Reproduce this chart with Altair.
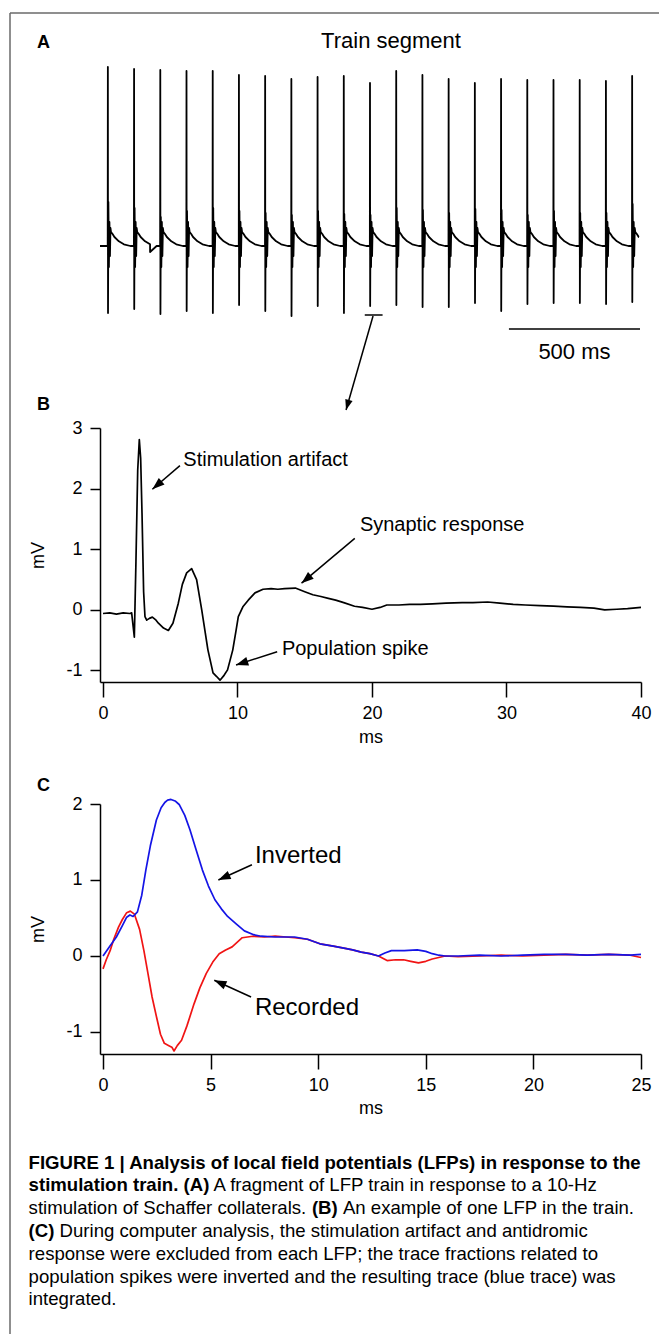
import math
import altair as alt
import pandas as pd

FONT = "Liberation Sans"
W, H = 659, 1334

# ---------------- Panel A : train segment (10-Hz stimulation) ----------------
A_TIMES = [0, 100, 200, 300, 400, 500, 600, 700, 800, 900, 1000,
           1100, 1200, 1300, 1400, 1500, 1600, 1700, 1800, 1900, 2000]
A_TOPS = [17.9, 17.7, 17.6, 17.5, 17.5, 17.1, 17.0, 16.7, 16.9, 17.0, 16.3,
          17.5, 17.1, 16.7, 16.3, 16.7, 16.6, 16.6, 16.6, 16.5, 17.0]
A_BOTTOMS = [-6.7, -6.3, -6.8, -6.5, -6.7, -5.9, -6.5, -7.0, -6.0, -6.7, -6.0,
             -5.9, -6.1, -6.1, -5.7, -6.5, -5.8, -5.7, -5.7, -5.8, -5.6]
A_SECOND = [4.4, 3.8, 2.9, 3.5, 3.8, 3.5, 3.3, 3.1, 3.5, 3.2, 3.1,
            3.8, 3.6, 3.3, 3.7, 3.6, 3.1, 3.5, 3.3, 3.3, 4.2]
# shape read after each stimulus: ms after stimulus / value (markers take per-spike values)
A_WAVE_T = [-0.6, 0.0, 0.6, 2.0, 4.0, 6.0, 8.0, 10.0, 12.0, 18.0, 25.0, 42.0, 61.0, 86.0]
A_WAVE_V = [0.0, "top", "bottom", "second", -2.1, 2.4, -1.0, 1.8, 1.4, 1.2, 0.9, 0.47, 0.17, 0.0]
A_EXTRA_T = [-30.0, 161.0, 2026.0]
A_EXTRA_V = [0.0, -0.6, 0.9]
A_END = 2026.0

# ---------------- Panel B : one LFP ----------------
B_T = [0.0, 0.5, 1.0, 1.5, 2.0, 2.13, 2.33, 2.45, 2.58, 2.70, 2.80, 2.90, 3.02, 3.12,
       3.25, 3.45, 3.67, 3.9, 4.12, 4.5, 4.86, 5.2, 5.6, 5.9, 6.22, 6.59, 6.96, 7.34,
       7.8, 8.18, 8.45, 8.7, 9.0, 9.26, 9.65, 9.9, 10.06, 10.4, 10.8, 11.3, 11.9, 12.5,
       13.0, 13.5, 14.3, 15.0, 15.6, 16.2, 16.75, 17.3, 17.9, 18.7, 19.3, 20.0, 20.6,
       21.1, 22.0, 22.8, 23.6, 24.5, 25.5, 26.7, 27.5, 28.6, 29.5, 30.5, 31.4, 32.5,
       33.5, 34.5, 35.5, 36.5, 37.3, 38.2, 39.0, 40.0]
B_V = [-0.06, -0.05, -0.07, -0.05, -0.06, -0.05, -0.45, 0.8, 2.3, 2.81, 2.5, 1.6, 0.3, -0.11,
       -0.17, -0.14, -0.12, -0.16, -0.22, -0.30, -0.34, -0.22, 0.11, 0.42, 0.61, 0.68, 0.50, 0.0,
       -0.66, -1.04, -1.10, -1.16, -1.08, -0.99, -0.66, -0.33, -0.11, 0.05, 0.16, 0.28, 0.34, 0.35,
       0.34, 0.35, 0.36, 0.30, 0.25, 0.22, 0.19, 0.16, 0.12, 0.06, 0.04, 0.01, 0.04,
       0.08, 0.08, 0.09, 0.09, 0.10, 0.11, 0.12, 0.12, 0.13, 0.11, 0.09, 0.08, 0.07,
       0.06, 0.05, 0.04, 0.03, 0.00, 0.01, 0.02, 0.04]

# ---------------- Panel C : recorded vs inverted ----------------
C_BLUE_T = [0, 0.3, 0.62, 0.9, 1.1, 1.25, 1.4, 1.6, 1.8, 1.99, 2.2, 2.48, 2.7, 2.87, 3.0,
            3.16, 3.35, 3.55, 3.8, 4.04, 4.3, 4.62, 4.9, 5.2, 5.5, 5.79, 6.2, 6.57, 7.0,
            7.35, 8.0, 8.5, 8.9, 9.5, 10.08, 10.7, 11.25, 11.6, 12.0, 12.4, 12.8, 13.1,
            13.4, 14.0, 14.6, 15.0, 15.3, 15.6, 15.9, 16.5, 17.5, 18.5, 19.5, 20.5, 21.5,
            22.5, 23.5, 24.5, 25.0]
C_BLUE_V = [0.0, 0.12, 0.25, 0.40, 0.51, 0.54, 0.52, 0.58, 0.80, 1.13, 1.45, 1.79, 1.95,
            2.02, 2.05, 2.06, 2.04, 1.99, 1.85, 1.66, 1.42, 1.13, 0.92, 0.74, 0.62, 0.52,
            0.42, 0.33, 0.28, 0.26, 0.25, 0.25, 0.25, 0.22, 0.16, 0.13, 0.10, 0.08, 0.05,
            0.03, 0.0, 0.04, 0.07, 0.07, 0.08, 0.06, 0.03, 0.01, 0.0, 0.0, 0.01, 0.0, 0.01,
            0.02, 0.02, 0.01, 0.02, 0.01, 0.02]
C_RED_T = [0, 0.15, 0.33, 0.5, 0.72, 0.9, 1.1, 1.27, 1.46, 1.7, 1.9, 2.1, 2.28, 2.5, 2.67,
           2.85, 3.06, 3.2, 3.3, 3.45, 3.65, 3.9, 4.23, 4.5, 4.8, 5.1, 5.4, 5.7, 6.0, 6.47,
           6.96, 7.5, 8.0, 8.5, 8.9, 9.5, 10.08, 10.7, 11.25, 11.6, 12.0, 12.4, 12.8, 13.2,
           13.6, 13.97, 14.3, 14.66, 15.0, 15.3, 15.6, 15.9, 16.5, 17.5, 18.5, 19.5, 20.5,
           21.5, 22.5, 23.5, 24.5, 25.0]
C_RED_V = [-0.17, -0.05, 0.07, 0.22, 0.38, 0.48, 0.57, 0.59, 0.55, 0.35, 0.07, -0.25, -0.54,
           -0.82, -1.03, -1.15, -1.18, -1.20, -1.25, -1.18, -1.11, -0.92, -0.63, -0.42, -0.23,
           -0.08, 0.03, 0.08, 0.12, 0.24, 0.26, 0.25, 0.26, 0.25, 0.24, 0.22, 0.16, 0.13,
           0.10, 0.08, 0.05, 0.03, 0.0, -0.06, -0.05, -0.05, -0.07, -0.09, -0.07, -0.04,
           -0.02, 0.0, -0.01, 0.0, 0.01, 0.0, 0.01, 0.02, 0.01, 0.02, 0.01, -0.02]

B_TICKS_X = [0, 10, 20, 30, 40]
B_TICKS_Y = [-1, 0, 1, 2, 3]
C_TICKS_X = [0, 5, 10, 15, 20, 25]
C_TICKS_Y = [-1, 0, 1, 2]

# ---------------- layout (pixels) ----------------
A_XD, A_XR = [-30, 2030], [100, 640]
A_YD, A_YR = [-10, 20], [346, 46]
B_XD, B_XR = [-0.223, 40], [100, 641]
B_YD, B_YR = [-1.19, 3.0], [682, 428]
C_XD, C_XR = [-0.14, 25], [100, 641]
C_YD, C_YR = [-1.29, 2.0], [1054, 804]

BLACK = "#000000"
RED = "#f01414"
BLUE = "#1414e6"
ARROW_PATH = "M0,0L-0.36,-1L0.36,-1Z"


def sc(d, r):
    return alt.Scale(domain=d, range=r, nice=False, zero=False)


def ppu(d, r):
    return abs(r[1] - r[0]) / (d[1] - d[0])


def head_angle(x0, y0, x1, y1, xd, xr, yd, yr):
    dx = (x1 - x0) * ppu(xd, xr)
    dy = -(y1 - y0) * ppu(yd, yr)
    return math.degrees(math.atan2(-dx, dy)) % 360


def arrows(lines, xs, ys, xax, yax, xd, xr, yd, yr, size):
    df = pd.DataFrame(lines, columns=["x", "y", "x2", "y2"])
    rule = alt.Chart(df).mark_rule(color=BLACK, strokeWidth=1.5).encode(
        x=alt.X("x:Q", scale=xs, axis=xax), y=alt.Y("y:Q", scale=ys, axis=yax),
        x2="x2:Q", y2="y2:Q")
    heads = pd.DataFrame({
        "x": df["x2"], "y": df["y2"],
        "ang": [head_angle(a, b, c, d, xd, xr, yd, yr) for a, b, c, d in lines]})
    head = alt.Chart(heads).mark_point(shape=ARROW_PATH, filled=True, size=size,
                                       color=BLACK, opacity=1, strokeWidth=0).encode(
        x=alt.X("x:Q", scale=xs, axis=xax), y=alt.Y("y:Q", scale=ys, axis=yax),
        angle=alt.Angle("ang:Q", scale=None))
    return [rule, head]


def labels(items, xs, ys, xax, yax, size):
    df = pd.DataFrame(items, columns=["x", "y", "label"])
    return alt.Chart(df).mark_text(align="left", baseline="middle", font=FONT,
                                   fontSize=size, color=BLACK).encode(
        x=alt.X("x:Q", scale=xs, axis=xax), y=alt.Y("y:Q", scale=ys, axis=yax),
        text="label:N")


# ---------- Panel A ----------
rows = []
for T, top, bot, sec in zip(A_TIMES, A_TOPS, A_BOTTOMS, A_SECOND):
    per = {"top": top, "bottom": bot, "second": sec}
    for off, v in zip(A_WAVE_T, A_WAVE_V):
        if T + off > A_END:
            continue
        rows.append((T + off, per[v] if isinstance(v, str) else v))
rows += list(zip(A_EXTRA_T, A_EXTRA_V))
dfA = pd.DataFrame(rows, columns=["x", "y"]).sort_values("x")

axs, ays = sc(A_XD, A_XR), sc(A_YD, A_YR)
traceA = alt.Chart(dfA).mark_line(color=BLACK, strokeWidth=1.8, strokeJoin="round").encode(
    x=alt.X("x:Q", scale=axs, axis=None), y=alt.Y("y:Q", scale=ays, axis=None))
SCALEBAR_MS = 500
bar = alt.Chart(pd.DataFrame({"x": [1530], "x2": [1530 + SCALEBAR_MS], "y": [-8.3]})).mark_rule(
    color=BLACK, strokeWidth=1.6).encode(
    x=alt.X("x:Q", scale=axs, axis=None), x2="x2:Q", y=alt.Y("y:Q", scale=ays, axis=None))
bar_txt = alt.Chart(pd.DataFrame({"x": [1780], "y": [-11.25], "label": [f"{SCALEBAR_MS} ms"]})).mark_text(
    align="center", baseline="alphabetic", font=FONT, fontSize=22, color=BLACK).encode(
    x=alt.X("x:Q", scale=axs, axis=None), y=alt.Y("y:Q", scale=ays, axis=None), text="label:N")
bracket = alt.Chart(pd.DataFrame({"x": [980], "x2": [1048], "y": [-6.9]})).mark_rule(
    color=BLACK, strokeWidth=1.5).encode(
    x=alt.X("x:Q", scale=axs, axis=None), x2="x2:Q", y=alt.Y("y:Q", scale=ays, axis=None))
arrA = arrows([(1011.6, -7.0, 908.6, -16.4)], axs, ays, None, None, A_XD, A_XR, A_YD, A_YR, 440)
groupA = alt.layer(traceA, bar, bar_txt, bracket, *arrA)

# ---------- Panel B ----------
bxs, bys = sc(B_XD, B_XR), sc(B_YD, B_YR)
LBL = "'' + datum.value"
bxax = alt.Axis(orient="bottom", offset=B_YR[0] - H, values=B_TICKS_X, title="ms",
                tickSize=15, labelPadding=7, labelExpr=LBL, titleY=60,
                titleBaseline="alphabetic")
byax = alt.Axis(orient="left", offset=-B_XR[0], values=B_TICKS_Y, title="mV",
                tickSize=10, labelPadding=8, labelExpr=LBL, titleX=-57,
                titleY=(B_YR[0] + B_YR[1]) / 2, titleAngle=270, titleBaseline="alphabetic",
                titleAlign="center")
dfB = pd.DataFrame({"x": B_T, "y": B_V})
traceB = alt.Chart(dfB).mark_line(color=BLACK, strokeWidth=1.7, strokeJoin="round").encode(
    x=alt.X("x:Q", scale=bxs, axis=bxax), y=alt.Y("y:Q", scale=bys, axis=byax))
txtB = labels([(5.97, 2.48, "Stimulation artifact"),
               (19.1, 1.40, "Synaptic response"),
               (13.3, -0.65, "Population spike")], bxs, bys, bxax, byax, 20)
arrB = arrows([(5.72, 2.38, 3.67, 1.99),
               (18.72, 1.18, 14.76, 0.44),
               (12.95, -0.69, 9.89, -0.91)], bxs, bys, bxax, byax, B_XD, B_XR, B_YD, B_YR, 600)
groupB = alt.layer(traceB, txtB, *arrB)

# ---------- Panel C ----------
cxs, cys = sc(C_XD, C_XR), sc(C_YD, C_YR)
cxax = alt.Axis(orient="bottom", offset=C_YR[0] - H, values=C_TICKS_X, title="ms",
                tickSize=15, labelPadding=7, labelExpr=LBL, titleY=59,
                titleBaseline="alphabetic")
cyax = alt.Axis(orient="left", offset=-C_XR[0], values=C_TICKS_Y, title="mV",
                tickSize=10, labelPadding=8, labelExpr=LBL, titleX=-57,
                titleY=(C_YR[0] + C_YR[1]) / 2, titleAngle=270, titleBaseline="alphabetic",
                titleAlign="center")
red = alt.Chart(pd.DataFrame({"x": C_RED_T, "y": C_RED_V})).mark_line(
    color=RED, strokeWidth=1.7, strokeJoin="round").encode(
    x=alt.X("x:Q", scale=cxs, axis=cxax), y=alt.Y("y:Q", scale=cys, axis=cyax))
blue = alt.Chart(pd.DataFrame({"x": C_BLUE_T, "y": C_BLUE_V})).mark_line(
    color=BLUE, strokeWidth=1.7, strokeJoin="round").encode(
    x=alt.X("x:Q", scale=cxs, axis=cxax), y=alt.Y("y:Q", scale=cys, axis=cyax))
txtC = labels([(7.06, 1.32, "Inverted"), (7.06, -0.68, "Recorded")],
              cxs, cys, cxax, cyax, 24)
arrC = arrows([(6.92, 1.20, 5.36, 1.00), (6.88, -0.54, 5.17, -0.32)],
              cxs, cys, cxax, cyax, C_XD, C_XR, C_YD, C_YR, 600)
groupC = alt.layer(red, blue, txtC, *arrC)

# ---------- frame, panel letters, titles, caption ----------
one = pd.DataFrame({"k": [0]})
decor = [
    alt.Chart(one).mark_rule(color="#6a6a6a", strokeWidth=1.5).encode(
        x=alt.value(10), x2=alt.value(W), y=alt.value(13)),
    alt.Chart(one).mark_rule(color="#6a6a6a", strokeWidth=1.5).encode(
        x=alt.value(10), y=alt.value(13), y2=alt.value(H)),
]


def txt(s, x, y, size, bold=False, align="left"):
    return alt.Chart(pd.DataFrame({"s": [s]})).mark_text(
        align=align, baseline="alphabetic", font=FONT, fontSize=size,
        fontWeight="bold" if bold else "normal", color=BLACK).encode(
        x=alt.value(x), y=alt.value(y), text="s:N")


decor += [txt("A", 37, 48, 18, True), txt("B", 37, 410, 18, True),
          txt("C", 37, 791, 18, True),
          txt("Train segment", 391, 48, 22, align="center")]

CAP_X = 28.6
CAP_BASE = 1168.5
CAP_STEP = 22.8
CAP_SIZE = 18.6
CAPTION = [
    [("FIGURE 1 | Analysis of local field potentials (LFPs) in response to the", True, 0)],
    [("stimulation train. (A)", True, 0),
     ("A fragment of LFP train in response to a 10-Hz", False, 185.0)],
    [("stimulation of Schaffer collaterals.", False, 0), ("(B)", True, 283.3),
     ("An example of one LFP in the train.", False, 314.3)],
    [("(C)", True, 0), ("During computer analysis, the stimulation artifact and antidromic", False, 31.0)],
    [("response were excluded from each LFP; the trace fractions related to", False, 0)],
    [("population spikes were inverted and the resulting trace (blue trace) was", False, 0)],
    [("integrated.", False, 0)],
]
for i, segs in enumerate(CAPTION):
    for s, b, dx in segs:
        decor.append(txt(s, CAP_X + dx, CAP_BASE + i * CAP_STEP, CAP_SIZE, b))

chart = alt.layer(groupA, groupB, groupC, *decor).resolve_scale(
    x="independent", y="independent").properties(
    width=W, height=H, padding=0, autosize=alt.AutoSizeParams(type="none"),
    background="white").configure_view(strokeWidth=0).configure_axis(
    grid=False, domainColor=BLACK, domainWidth=1.5, tickColor=BLACK, tickWidth=1.5,
    labelFont=FONT, labelFontSize=18, labelColor=BLACK, labelFlush=False,
    titleFont=FONT, titleFontSize=18, titleFontWeight="normal", titleColor=BLACK)

chart.save("out.html", embed_options={"renderer": "svg", "actions": False})
